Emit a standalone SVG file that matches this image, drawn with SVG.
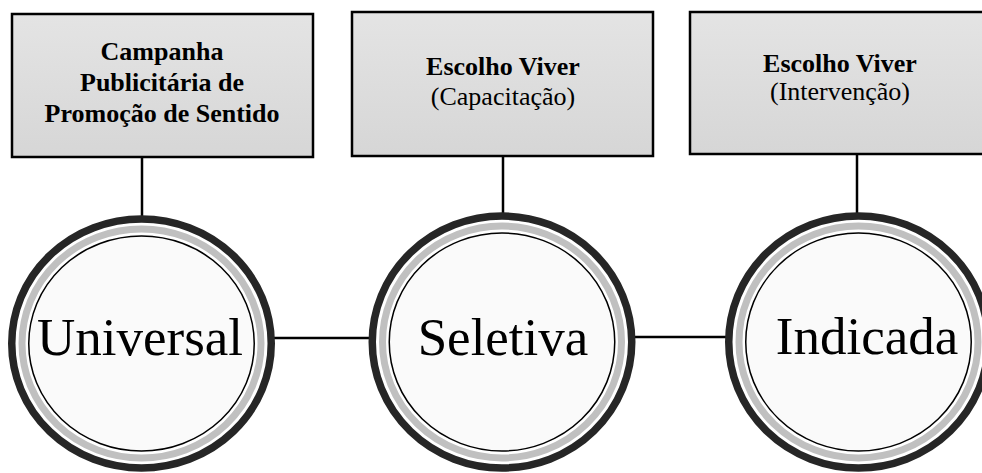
<svg xmlns="http://www.w3.org/2000/svg" width="982" height="473" viewBox="0 0 982 473">
<defs>
<linearGradient id="boxg" x1="0" y1="0" x2="0" y2="1">
<stop offset="0" stop-color="#e4e4e4"/>
<stop offset="1" stop-color="#d6d6d6"/>
</linearGradient>
<style>
.box{fill:url(#boxg);stroke:#000;stroke-width:2.5}
.outer{fill:#fff;stroke:#262626;stroke-width:7.5}
.gray{fill:none;stroke:#c0c0c0;stroke-width:7}
.inner{fill:#fafafa;stroke:#000;stroke-width:1.5}
.conn{stroke:#000;stroke-width:2.5;fill:none}
.bt{font-family:"Liberation Serif","Times New Roman",serif;font-size:26px;text-anchor:middle;fill:#000}
.b{font-weight:bold}
.ct{font-family:"Liberation Serif","Times New Roman",serif;font-size:53px;text-anchor:middle;fill:#000}
</style>
</defs>
<rect width="982" height="473" fill="#fff"/>
<g id="connectors">
<line class="conn" x1="142" y1="157" x2="142" y2="216"/>
<line class="conn" x1="503" y1="156" x2="503" y2="213"/>
<line class="conn" x1="857" y1="154" x2="857" y2="213"/>
<line class="conn" x1="274" y1="338" x2="370" y2="338"/>
<line class="conn" x1="634" y1="337" x2="726" y2="337"/>
</g>
<g id="box1">
<rect class="box" x="12" y="14" width="301" height="143"/>
<text class="bt b" x="162" y="60">Campanha</text>
<text class="bt b" x="162" y="91">Publicitária de</text>
<text class="bt b" x="162" y="122">Promoção de Sentido</text>
</g>
<g id="box2">
<rect class="box" x="352" y="12" width="301" height="144"/>
<text class="bt b" x="503" y="75">Escolho Viver</text>
<text class="bt" x="503" y="105">(Capacitação)</text>
</g>
<g id="box3">
<rect class="box" x="690" y="12" width="301" height="142"/>
<text class="bt b" x="840" y="72">Escolho Viver</text>
<text class="bt" x="840" y="100">(Intervenção)</text>
</g>
<g id="universal">
<ellipse class="outer" cx="141.5" cy="343.5" rx="129.75" ry="124.5"/>
<ellipse class="gray" cx="141.5" cy="343.5" rx="119.5" ry="114.5"/>
<ellipse class="inner" cx="141.5" cy="343.5" rx="112.75" ry="107.5"/>
<text class="ct" x="140" y="355">Universal</text>
</g>
<g id="seletiva">
<ellipse class="outer" cx="502" cy="342" rx="129.75" ry="126"/>
<ellipse class="gray" cx="502" cy="342" rx="119.5" ry="116"/>
<ellipse class="inner" cx="502" cy="342" rx="112.75" ry="109"/>
<text class="ct" x="503" y="355">Seletiva</text>
</g>
<g id="indicada">
<ellipse class="outer" cx="858.5" cy="342" rx="129.75" ry="126"/>
<ellipse class="gray" cx="858.5" cy="342" rx="119.5" ry="116"/>
<ellipse class="inner" cx="858.5" cy="342" rx="112.75" ry="109"/>
<text class="ct" x="867" y="354">Indicada</text>
</g>
</svg>
